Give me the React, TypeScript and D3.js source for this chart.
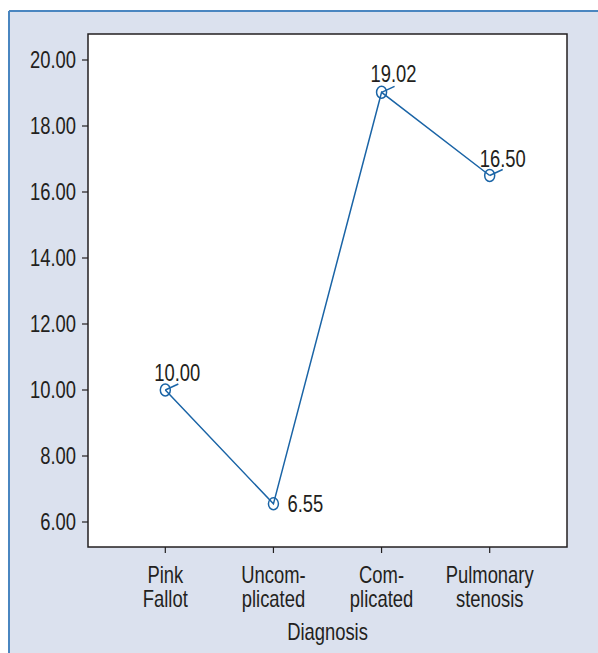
import React from "react";
import * as d3 from "d3";

const categories: string[][] = [["Pink", "Fallot"], ["Uncom-", "plicated"], ["Com-", "plicated"], ["Pulmonary", "stenosis"]];
const values: number[] = [10.0, 6.55, 19.02, 16.5];
const yTicks: number[] = [6, 8, 10, 12, 14, 16, 18, 20];
const xTitle = "Diagnosis";

// label placement relative to the point (styling)
const labelStyle = [
  { dx: -11, dy: -9, leader: true },
  { dx: 14, dy: 8, leader: false },
  { dx: -11, dy: -10, leader: true },
  { dx: -10, dy: -9, leader: true },
];

const W = 598, H = 653;
const plot = { left: 88, right: 567, top: 34, bottom: 547 };
const FONT = "'Liberation Sans', Arial, sans-serif";
const BLUE = "#1a64a6";
const DARK = "#231f20";
const SX = 0.8;
const FS = 23;

function T({ x, y, anchor = "start", children, dy }: { x: number; y: number; anchor?: string; children: any; dy?: string }) {
  return (
    <text transform={`translate(${x},${y}) scale(${SX},1)`} dy={dy} textAnchor={anchor as any} fontSize={FS} fill={DARK}>
      {children}
    </text>
  );
}

export default function App() {
  const x = d3.scalePoint<number>()
    .domain(d3.range(categories.length))
    .range([plot.left, plot.right])
    .padding(0.715);
  const y = d3.scaleLinear().domain([6 - 25 / 33, 20 + 26 / 33]).range([plot.bottom, plot.top]);
  const line = d3.line<number>().x((_, i) => x(i)!).y((d) => y(d));

  return (
    <svg width={W} height={H} style={{ position: "absolute", left: 0, top: 0 }} fontFamily={FONT}>
      <rect x={0} y={0} width={W} height={H} fill="#ffffff" />
      <rect x={9} y={11} width={W - 9} height={H - 11} fill="#dbe1ee" />
      <line x1={9} y1={11} x2={W} y2={11} stroke="#4a86c0" strokeWidth={2} />
      <line x1={9} y1={11} x2={9} y2={H} stroke="#4a86c0" strokeWidth={2} />
      <rect x={plot.left} y={plot.top} width={plot.right - plot.left} height={plot.bottom - plot.top} fill="#ffffff" stroke={DARK} strokeWidth={1.5} />
      {yTicks.map((t) => (
        <g key={t}>
          <line x1={plot.left - 6} x2={plot.left} y1={y(t)} y2={y(t)} stroke={DARK} strokeWidth={1.2} />
          <T x={plot.left - 12} y={y(t)} dy="0.36em" anchor="end">{t.toFixed(2)}</T>
        </g>
      ))}
      {categories.map((c, i) => (
        <g key={i}>
          <line x1={x(i)} x2={x(i)} y1={plot.bottom} y2={plot.bottom + 6} stroke={DARK} strokeWidth={1.2} />
          {c.map((s, j) => (
            <T key={j} x={x(i)!} y={583 + j * 24} anchor="middle">{s}</T>
          ))}
        </g>
      ))}
      <T x={(plot.left + plot.right) / 2} y={640} anchor="middle">{xTitle}</T>
      <path d={line(values) || ""} fill="none" stroke={BLUE} strokeWidth={1.5} />
      {values.map((v, i) => {
        const cx = x(i)!, cy = y(v);
        const st = labelStyle[i];
        return (
          <g key={i}>
            <ellipse cx={cx} cy={cy} rx={5} ry={6} fill="none" stroke={BLUE} strokeWidth={1.5} />
            {st.leader && <line x1={cx} y1={cy} x2={cx + 13} y2={cy - 6} stroke={BLUE} strokeWidth={1.5} />}
            <T x={cx + st.dx} y={cy + st.dy}>{v.toFixed(2)}</T>
          </g>
        );
      })}
    </svg>
  );
}
